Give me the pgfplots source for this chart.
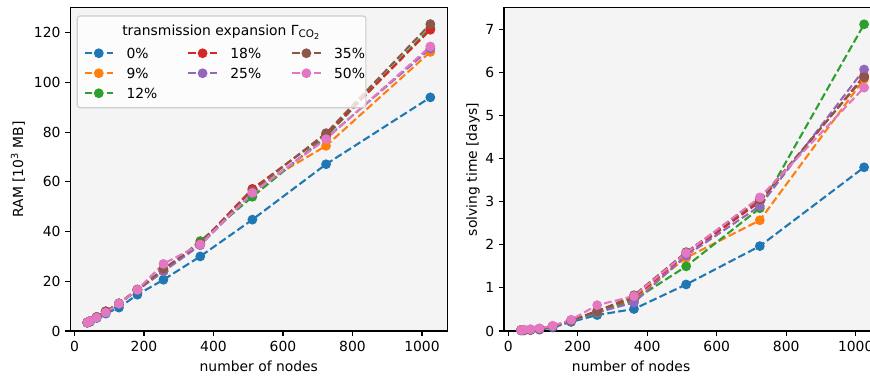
\documentclass[border=0pt]{standalone}
\usepackage{fontspec}
\setmainfont{DejaVu Sans}
\usepackage{pgfplots}
\usepackage{pgfplotstable}
\pgfplotsset{compat=1.18}
\definecolor{c0}{HTML}{1F77B4}
\definecolor{c1}{HTML}{FF7F0E}
\definecolor{c2}{HTML}{2CA02C}
\definecolor{c3}{HTML}{D62728}
\definecolor{c4}{HTML}{9467BD}
\definecolor{c5}{HTML}{8C564B}
\definecolor{c6}{HTML}{E377C2}
\definecolor{bgc}{HTML}{F4F4F4}
\newcommand\lgent[2]{\hspace{9pt}\raisebox{2.9pt}{#1}\rule{#2}{0pt}}

\pgfplotstableread{
n    s0    s9    s12   s18   s25   s35   s50
37   3.3   3.4   3.4   3.4   3.4   3.4   3.4
45   3.7   4.0   4.0   4.0   4.0   4.0   4.0
64   5.2   5.6   5.6   5.6   5.6   5.6   5.4
90   7.0   7.8   7.8   7.9   7.8   7.9   7.4
128  9.4   11.0  11.0  11.1  11.0  11.1  11.0
181  14.6  16.6  16.5  16.7  16.4  16.6  16.6
256  20.6  24.0  24.0  24.5  24.0  25.0  27.0
362  30.0  35.0  36.2  35.3  34.5  35.3  34.8
512  44.8  57.0  54.0  57.2  55.5  56.5  55.6
724  67.1  74.5  78.3  79.0  77.5  79.6  77.2
1024 94.0  112.3 122.0 121.2 113.6 123.5 114.5
}\ramtable

\pgfplotstableread{
n    s0    s9    s12   s18   s25   s35   s50
37   0.01  0.02  0.02  0.02  0.02  0.02  0.02
45   0.01  0.02  0.02  0.02  0.02  0.02  0.03
64   0.02  0.03  0.03  0.03  0.03  0.03  0.04
90   0.03  0.05  0.05  0.05  0.05  0.05  0.06
128  0.08  0.11  0.11  0.11  0.11  0.11  0.12
181  0.21  0.24  0.24  0.24  0.24  0.25  0.26
256  0.37  0.45  0.42  0.47  0.43  0.45  0.60
362  0.51  0.75  0.72  0.78  0.66  0.83  0.81
512  1.08  1.70  1.50  1.78  1.75  1.83  1.81
724  1.97  2.57  2.85  3.00  2.90  3.05  3.10
1024 3.80  5.85  7.12  5.92  6.07  5.89  5.65
}\timetable

\pgfplotsset{
  ser/.style={line width=1.5pt, dash pattern=on 5.55pt off 2.4pt, mark=*, mark size=3pt, mark options={solid, line width=1pt}},
  myax/.style={
    scale only axis, width=271.5pt, height=232.6pt,
    axis background/.style={fill=bgc},
    axis line style={line width=0.8pt},
    every tick/.style={line width=0.8pt, black},
    tick align=outside, major tick length=3.5pt,
    xtick pos=left, ytick pos=left,
    xmin=-12, xmax=1073, xtick={0,200,...,1000},
    /pgf/number format/assume math mode=true,
    /pgf/number format/1000 sep={},
    scaled ticks=false,
    tick label style={font=\fontsize{10}{12}\selectfont},
    label style={font=\fontsize{10}{12}\selectfont},
    xlabel={number of nodes},
  }
}

\begin{document}
\begin{tikzpicture}
\begin{axis}[myax, at={(0pt,0pt)}, anchor=south west,
  ymin=0, ymax=130, ytick={0,20,...,120},
  ylabel={RAM [10\textsuperscript{3} MB]},
  xlabel style={at={(axis description cs:0.5,-0.108)}, anchor=center},
  ylabel style={at={(axis description cs:-0.1386,0.5)}, anchor=center},
  legend columns=3,
  legend cell align=left,
  legend image code/.code={%
    \draw[mark repeat=2, mark phase=2] plot coordinates {(0pt,3.6pt)(10.25pt,3.6pt)(20.5pt,3.6pt)};},
  legend style={at={(axis description cs:0.0344,0.8734)}, anchor=north west, draw=none, fill=none, inner sep=0pt,
    font=\fontsize{10}{12}\selectfont,
    nodes={inner sep=0pt, text height=7.3pt, text depth=0.7pt},
    /tikz/column sep=0pt,
    row sep=3.8pt,
    /tikz/every odd column/.style={},
    /tikz/every even column/.style={}},
]
\addplot[ser, c0, forget plot] table[x=n, y=s0] {\ramtable};
\addplot[ser, c1, forget plot] table[x=n, y=s9] {\ramtable};
\addplot[ser, c2, forget plot] table[x=n, y=s12] {\ramtable};
\addplot[ser, c3, forget plot] table[x=n, y=s18] {\ramtable};
\addplot[ser, c4, forget plot] table[x=n, y=s25] {\ramtable};
\addplot[ser, c5, forget plot] table[x=n, y=s35] {\ramtable};
\addplot[ser, c6, forget plot] table[x=n, y=s50] {\ramtable};
\draw[draw=black!20, line width=0.8pt, fill=white, fill opacity=0.8, rounded corners=2pt]
  (axis description cs:0.01856,0.691) rectangle (axis description cs:0.784,0.975);
\node[font=\fontsize{10}{12}\selectfont, anchor=center] at (axis description cs:0.399,0.9254)
  {transmission expansion Γ\raisebox{-0.35ex}{\fontsize{7.5}{8}\selectfont CO\raisebox{-0.3ex}{\fontsize{5.8}{6}\selectfont 2}}};
\addlegendimage{ser, c0}\addlegendentry{\lgent{0\%}{21.5pt}}
\addlegendimage{ser, c3}\addlegendentry{\lgent{18\%}{21.5pt}}
\addlegendimage{ser, c5}\addlegendentry{\lgent{35\%}{0pt}}
\addlegendimage{ser, c1}\addlegendentry{\lgent{9\%}{21.5pt}}
\addlegendimage{ser, c4}\addlegendentry{\lgent{25\%}{21.5pt}}
\addlegendimage{ser, c6}\addlegendentry{\lgent{50\%}{0pt}}
\addlegendimage{ser, c2}\addlegendentry{\lgent{12\%}{21.5pt}}
\end{axis}

\begin{axis}[myax, at={(312.3pt,0pt)}, anchor=south west,
  ymin=0, ymax=7.5, ytick={0,1,...,7},
  ylabel={solving time [days]},
  xlabel style={at={(axis description cs:0.337,-0.108)}, anchor=center},
  ylabel style={at={(axis description cs:-0.0822,0.5)}, anchor=center},
]
\addplot[ser, c0] table[x=n, y=s0] {\timetable};
\addplot[ser, c1] table[x=n, y=s9] {\timetable};
\addplot[ser, c2] table[x=n, y=s12] {\timetable};
\addplot[ser, c3] table[x=n, y=s18] {\timetable};
\addplot[ser, c4] table[x=n, y=s25] {\timetable};
\addplot[ser, c5] table[x=n, y=s35] {\timetable};
\addplot[ser, c6] table[x=n, y=s50] {\timetable};
\end{axis}
\pgfresetboundingbox
\useasboundingbox (-50.6pt,-32.4pt) rectangle (575.8pt,238.3pt);
\end{tikzpicture}
\end{document}
